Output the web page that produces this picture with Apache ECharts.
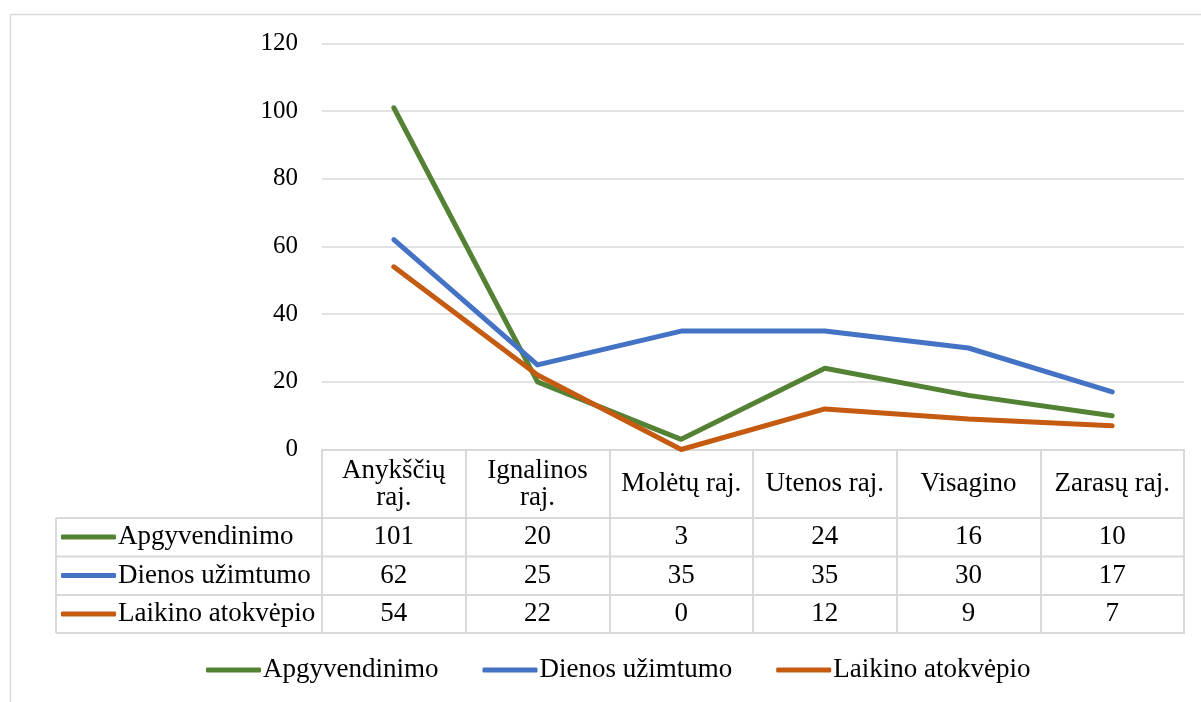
<!DOCTYPE html>
<html>
<head>
<meta charset="utf-8">
<script src="https://cdn.jsdelivr.net/npm/echarts@6/dist/echarts.min.js"></script>
<style>
html,body{margin:0;padding:0;background:#fff;}
#chart{width:1201px;height:702px;}
</style>
</head>
<body>
<div id="chart"></div>
<script>
const categories = ['Anykščių raj.', 'Ignalinos raj.', 'Molėtų raj.', 'Utenos raj.', 'Visagino', 'Zarasų raj.'];
const seriesNames = ['Apgyvendinimo', 'Dienos užimtumo', 'Laikino atokvėpio'];
const apgyvendinimo = [101, 20, 3, 24, 16, 10];
const dienosUzimtumo = [62, 25, 35, 35, 30, 17];
const laikinoAtokvepio = [54, 22, 0, 12, 9, 7];
const seriesValues = [apgyvendinimo, dienosUzimtumo, laikinoAtokvepio];
const seriesColors = ['#548235', '#4472C4', '#C55A11'];
const yMin = 0, yMax = 120, yStep = 20;

const FONT = 'Liberation Serif';
const TFS = 27;
const GRID_LEFT = 322, GRID_RIGHT = 17, GRID_TOP = 43.5, ZERO_Y = 449.5;
const TABLE_LEFT = 56, TABLE_RIGHT = 1184;
const rowLines = [518, 556.5, 595, 633];
const rowCenters = [537, 575.5, 614];
const headerCenter = 484;
const BORDER = '#d9d9d9';

const chart = echarts.init(document.getElementById('chart'), null, {renderer: 'canvas'});

const xAxes = [{
  type: 'category',
  data: categories,
  position: 'bottom',
  boundaryGap: true,
  axisLine: {show: true, lineStyle: {color: BORDER, width: 2}},
  axisTick: {show: true, length: rowLines[3] - ZERO_Y, lineStyle: {color: BORDER, width: 2}},
  axisLabel: {
    interval: 0, margin: headerCenter - ZERO_Y, verticalAlign: 'middle', lineHeight: 27,
    fontFamily: FONT, fontSize: TFS, color: '#000',
    formatter: v => (v.length > 12 ? v.replace(' ', '\n') : v)
  }
}];
seriesValues.forEach((vals, k) => {
  xAxes.push({
    type: 'category',
    data: categories,
    position: 'bottom',
    offset: 0,
    axisLine: {show: false},
    axisTick: {show: false},
    splitLine: {show: false},
    axisLabel: {
      interval: 0, margin: rowCenters[k] - ZERO_Y, verticalAlign: 'middle',
      fontFamily: FONT, fontSize: TFS, color: '#000',
      formatter: (v, i) => String(vals[i])
    }
  });
});

const legendText = {fontFamily: FONT, fontSize: TFS, color: '#000', lineHeight: 30, padding: [0, 0, 0, -3]};
const legends = seriesNames.map((name, k) => ({
  data: [name],
  left: TABLE_LEFT + 5,
  top: rowCenters[k] - 15,
  padding: 0,
  selectedMode: false,
  icon: 'roundRect',
  itemWidth: 55,
  itemHeight: 5,
  textStyle: legendText
}));
legends.push({
  data: seriesNames,
  left: 206,
  top: 655,
  padding: 0,
  itemGap: 44,
  selectedMode: false,
  icon: 'roundRect',
  itemWidth: 55,
  itemHeight: 5,
  textStyle: legendText
});

const graphics = [
  {type: 'rect', silent: true, z: -10, shape: {x: 10.5, y: 14.5, width: 1250, height: 750},
   style: {fill: 'none', stroke: BORDER, lineWidth: 1.5}},
  {type: 'line', silent: true, shape: {x1: TABLE_LEFT, y1: rowLines[0], x2: TABLE_LEFT, y2: rowLines[3]},
   style: {stroke: BORDER, lineWidth: 2}}
];
rowLines.forEach(y => {
  graphics.push({type: 'line', silent: true, shape: {x1: TABLE_LEFT, y1: y, x2: TABLE_RIGHT + 1, y2: y},
    style: {stroke: BORDER, lineWidth: 2}});
});

chart.setOption({
  animation: false,
  backgroundColor: '#fff',
  textStyle: {fontFamily: FONT},
  grid: {left: GRID_LEFT, right: GRID_RIGHT, top: GRID_TOP, bottom: 702 - ZERO_Y, containLabel: false},
  legend: legends,
  xAxis: xAxes,
  yAxis: {
    type: 'value', min: yMin, max: yMax, interval: yStep,
    axisLine: {show: false}, axisTick: {show: false},
    splitLine: {lineStyle: {color: BORDER, width: 1.5}},
    axisLabel: {fontFamily: FONT, fontSize: 25, color: '#000', margin: 24}
  },
  graphic: graphics,
  series: seriesNames.map((name, k) => ({
    name: name,
    type: 'line',
    xAxisIndex: 0,
    data: seriesValues[k],
    symbol: 'none',
    color: seriesColors[k],
    lineStyle: {width: 5, color: seriesColors[k], cap: 'round', join: 'round'},
    z: 3
  }))
});
</script>
</body>
</html>
